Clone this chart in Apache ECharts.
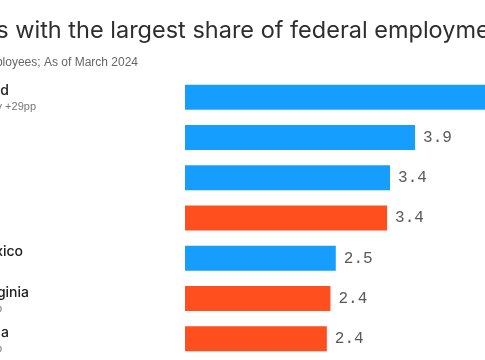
<!DOCTYPE html>
<html>
<head>
<meta charset="utf-8">
<script src="https://cdn.jsdelivr.net/npm/echarts@6/dist/echarts.min.js"></script>
<style>
html,body{margin:0;padding:0;background:#fff;overflow:hidden;}
#c{width:485px;height:360px;}
</style>
</head>
<body>
<div id="c"></div>
<script>
// Data
const categories = ["Maryland", "Virginia", "Hawaii", "Alaska", "New Mexico", "West Virginia", "Oklahoma"];
const notes = ["Harris won by +29pp", "", "", "", "", "Trump +42pp", "Trump +34pp"];
const values = [5.9, 3.86, 3.44, 3.39, 2.53, 2.44, 2.38];
const winner = ["D", "D", "D", "R", "D", "R", "R"];
const titleText = "States with the largest share of federal employment";
const subtitleText = "Share of all employees; As of March 2024";

const BLUE = "#169efe", ORANGE = "#ff4f1f";
const chart = echarts.init(document.getElementById('c'), null, {renderer: 'canvas'});

const option = {
  animation: false,
  grid: {left: 185, right: 0, top: 77, bottom: 1, containLabel: false},
  xAxis: {type: 'value', min: 0, max: 300 / 59.6, show: false},
  yAxis: {type: 'category', data: categories, inverse: true, show: false},
  series: [{
    type: 'bar',
    barWidth: 25,
    clip: true,
    data: values.map((v, i) => ({value: v, itemStyle: {color: winner[i] === 'D' ? BLUE : ORANGE}})),
    label: {
      show: true, position: 'right', distance: 8,
      fontFamily: 'Liberation Mono', fontSize: 16, color: '#5a5a5a',
      formatter: p => p.value.toFixed(1)
    }
  }]
};
chart.setOption(option);

// Labels and titles
const labelEnd = [9, -2, -10, -11, 23, 29, 9];
const noteEnd = [36, 0, 0, 0, 0, 2, 2];
const g = [];
g.push({type: 'text', x: -61, y: 31, style: {text: titleText, font: '23.5px Inter', fill: '#2e2e2e', verticalAlign: 'middle'}});
g.push({type: 'text', x: 138, y: 63, style: {text: subtitleText, font: '12px "Liberation Sans"', fill: '#666', align: 'right', verticalAlign: 'middle'}});
categories.forEach((c, i) => {
  const y = chart.convertToPixel({yAxisIndex: 0}, c);
  g.push({type: 'text', x: labelEnd[i], y: y - 6, style: {text: c, font: '500 14px Inter', fill: '#222', align: 'right', verticalAlign: 'middle'}});
  if (notes[i]) {
    g.push({type: 'text', x: noteEnd[i], y: y + 10, style: {text: notes[i], font: '11px "Liberation Sans"', fill: '#777', align: 'right', verticalAlign: 'middle'}});
  }
});
chart.setOption({graphic: g});
</script>
</body>
</html>
